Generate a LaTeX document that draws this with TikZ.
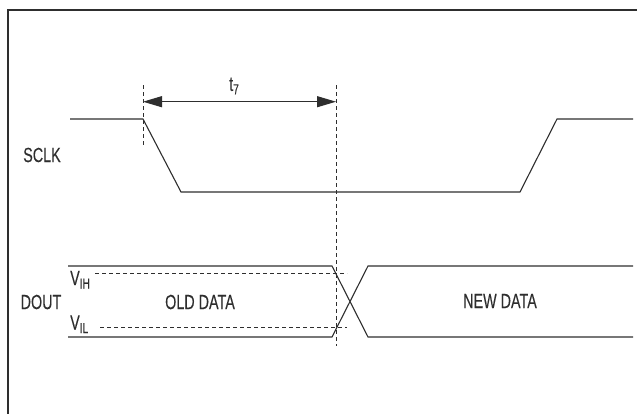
\documentclass[tikz,border=0pt]{standalone}
\usepackage{fontspec}
\setmainfont[FakeStretch=0.70,FakeBold=0.15]{Liberation Sans}
\usetikzlibrary{arrows.meta}
\definecolor{ink}{HTML}{2E2E2E}
\newcommand{\mysub}[1]{\raisebox{-3.5pt}{\fontsize{14.5}{15}\selectfont #1}}
\tikzset{
  wave/.style={draw=ink, line width=1.1pt, line join=miter},
  guide/.style={draw=ink, line width=1pt, dash pattern=on 4pt off 3pt},
  frameline/.style={draw=ink, line width=1.6pt},
  lbl/.style={text=ink, inner sep=0pt, font=\fontsize{20.5}{22}\selectfont},
  dim/.style={draw=ink, line width=1.1pt, {Triangle[length=19pt,width=11pt]}-{Triangle[length=19pt,width=11pt]}},
}
\begin{document}
\begin{tikzpicture}[x=1pt,y=-1pt]
\useasboundingbox (0,0) rectangle (637,413);
% frame
\coordinate (fbl) at (8,415);
\coordinate (ftl) at (8,10);
\coordinate (ftr) at (639,10);
\draw[frameline] (fbl) -- (ftl) -- (ftr);
% SCLK waveform
\coordinate (s0) at (70,119);
\coordinate (s1) at (143,119);
\coordinate (s2) at (181,192);
\coordinate (s3) at (520,192);
\coordinate (s4) at (557,119);
\coordinate (s5) at (633,119);
\draw[wave] (s0) -- (s1) -- (s2) -- (s3) -- (s4) -- (s5);
% DOUT
\coordinate (d0t) at (68,266);
\coordinate (d1t) at (332,266);
\coordinate (d2t) at (368,266);
\coordinate (d3t) at (633,266);
\coordinate (d0b) at (68,337);
\coordinate (d1b) at (332,337);
\coordinate (d2b) at (368,337);
\coordinate (d3b) at (633,337);
\draw[wave] (d0t) -- (d1t) -- (d2b) -- (d3b);
\draw[wave] (d0b) -- (d1b) -- (d2t) -- (d3t);
% guides
\coordinate (g1a) at (143,85);
\coordinate (g1b) at (143,145);
\coordinate (g2a) at (336,85);
\coordinate (g2b) at (336,346);
\draw[guide] (g1a) -- (g1b);
\draw[guide] (g2a) -- (g2b);
\coordinate (vha) at (95,273);
\coordinate (vhb) at (347,273);
\coordinate (vla) at (100,327);
\coordinate (vlb) at (347,327);
\draw[guide] (vha) -- (vhb);
\draw[guide] (vla) -- (vlb);
% dimension arrow
\coordinate (a1) at (143,101.7);
\coordinate (a2) at (336,101.7);
\draw[dim] (a1) -- (a2);
% labels
\node[lbl] (t7) at (234,86) {t\mysub{7}};
\node[lbl] (sclk) at (42,155) {SCLK};
\node[lbl] (dout) at (41,302) {DOUT};
\node[lbl] (old) at (200,302) {OLD DATA};
\node[lbl] (new) at (500,301) {NEW DATA};
\node[lbl, anchor=base west] (vih) at (70,285) {V\mysub{IH}};
\node[lbl, anchor=base west] (vil) at (70,329.5) {V\mysub{IL}};
\end{tikzpicture}
\end{document}
